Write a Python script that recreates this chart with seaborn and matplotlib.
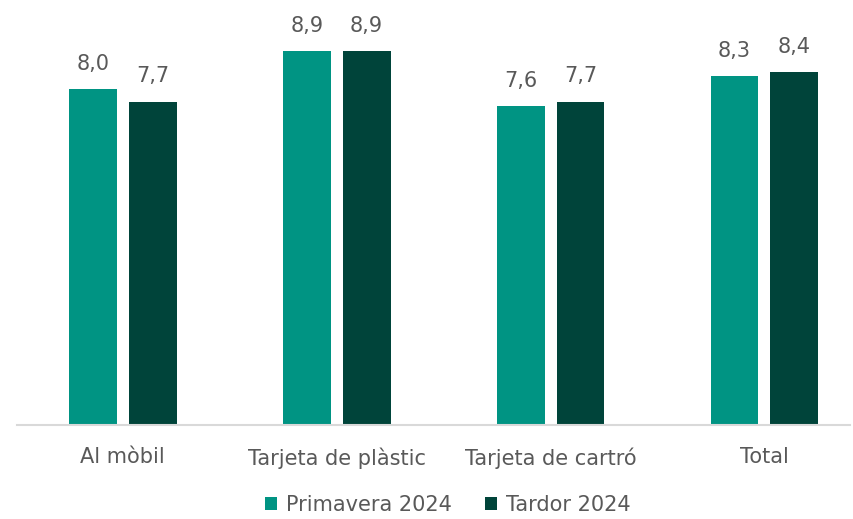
import pandas as pd
import seaborn as sns
import matplotlib.pyplot as plt

# Chart data
categories = ["Al mòbil", "Tarjeta de plàstic", "Tarjeta de cartró", "Total"]
series = ["Primavera 2024", "Tardor 2024"]
primavera = [8.0, 8.9, 7.6, 8.3]
tardor = [7.7, 8.9, 7.7, 8.4]
colors = ["#009483", "#00443A"]

df = pd.DataFrame({
    "Categoria": categories * 2,
    "Serie": [series[0]] * 4 + [series[1]] * 4,
    "Valor": primavera + tardor,
})

sns.set_style("white")
plt.rcParams["font.family"] = ["DejaVu Sans"]
text_color = "#595959"

fig = plt.figure(figsize=(8.54, 5.19), dpi=100)
ax = fig.add_axes([17 / 854, 1 - 425 / 519, 833 / 854, 425 / 519])

sns.barplot(data=df, x="Categoria", y="Valor", hue="Serie", palette=colors,
            saturation=1, linewidth=0, width=0.56, gap=0.2, ax=ax, legend=True)

# Value labels with comma decimal
for container in ax.containers:
    ax.bar_label(container, labels=[f"{v:.1f}".replace(".", ",") for v in container.datavalues],
                 padding=11, fontsize=15, color=text_color)

ax.set_ylim(0, 10.12)
ax.set_xlim(-0.495, 3.4)
ax.set_xlabel("")
ax.set_ylabel("")
ax.set_yticks([])
for s in ["top", "right", "left"]:
    ax.spines[s].set_visible(False)
ax.spines["bottom"].set_color("#D9D9D9")
ax.spines["bottom"].set_linewidth(1.5)
ax.tick_params(axis="x", length=0, pad=16, labelsize=15, labelcolor=text_color)

handles, labels = ax.get_legend_handles_labels()
ax.legend_.remove()
fig.legend(handles, labels, loc="lower center", bbox_to_anchor=(0.524, 0.0), ncol=2,
           frameon=False, fontsize=15, labelcolor=text_color, borderaxespad=0.1, borderpad=0.1,
           handlelength=0.6, handleheight=0.6, handletextpad=0.4, columnspacing=1.6)

plt.savefig("out.png", dpi=100)
